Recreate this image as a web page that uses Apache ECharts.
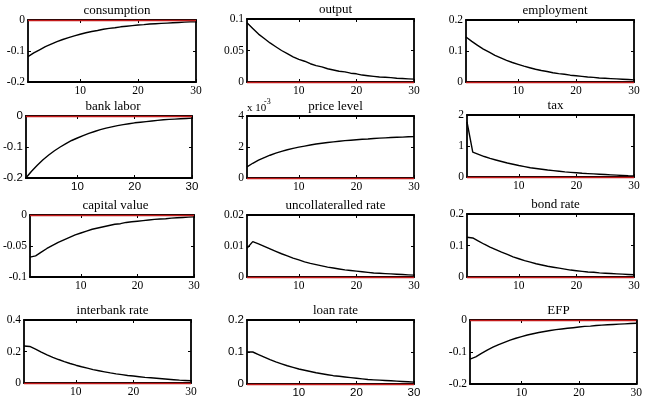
<!DOCTYPE html>
<html>
<head>
<meta charset="utf-8">
<script src="https://cdn.jsdelivr.net/npm/echarts@6/dist/echarts.min.js"></script>
<style>
  html, body { margin: 0; padding: 0; background: #fff; }
  #irf { width: 645px; height: 416px; }
</style>
</head>
<body>
<div id="irf"></div>
<script>
// horizon
const steps = [1,2,3,4,5,6,7,8,9,10,11,12,13,14,15,16,17,18,19,20,21,22,23,24,25,26,27,28,29,30]
const xTicks = [10, 20, 30]

const titles = ['consumption', 'output', 'employment', 'bank labor', 'price level', 'tax',
  'capital value', 'uncollateralled rate', 'bond rate', 'interbank rate', 'loan rate', 'EFP']

// responses
const consumption = [-0.118,-0.106,-0.096,-0.086,-0.078,-0.070,-0.063,-0.057,-0.051,-0.046,-0.041,-0.037,-0.034,-0.030,-0.027,-0.025,-0.022,-0.020,-0.018,-0.016,-0.015,-0.013,-0.012,-0.011,-0.010,-0.009,-0.008,-0.007,-0.006,-0.006]
const output = [0.094,0.085,0.076,0.069,0.062,0.056,0.050,0.045,0.040,0.036,0.033,0.029,0.026,0.024,0.021,0.019,0.017,0.016,0.014,0.013,0.011,0.010,0.009,0.008,0.0075,0.007,0.006,0.0055,0.005,0.0045]
const employment = [0.145,0.131,0.118,0.106,0.096,0.086,0.078,0.070,0.063,0.057,0.051,0.046,0.041,0.037,0.034,0.030,0.027,0.025,0.022,0.020,0.018,0.016,0.015,0.013,0.012,0.011,0.010,0.009,0.008,0.007]
const bankLabor = [-0.200,-0.178,-0.159,-0.141,-0.126,-0.112,-0.100,-0.089,-0.079,-0.071,-0.063,-0.056,-0.050,-0.044,-0.039,-0.035,-0.031,-0.028,-0.025,-0.022,-0.020,-0.018,-0.016,-0.014,-0.012,-0.011,-0.010,-0.009,-0.008,-0.007]
const priceLevel = [0.72,0.95,1.15,1.32,1.47,1.60,1.72,1.82,1.91,1.99,2.06,2.13,2.19,2.24,2.29,2.33,2.37,2.41,2.44,2.47,2.50,2.52,2.55,2.57,2.59,2.61,2.63,2.64,2.66,2.67] // x 10^-3
const tax = [1.78,0.80,0.73,0.66,0.60,0.55,0.50,0.45,0.41,0.37,0.335,0.30,0.275,0.25,0.225,0.205,0.185,0.165,0.15,0.135,0.12,0.11,0.10,0.09,0.08,0.07,0.06,0.05,0.04,0.035]
const capitalValue = [-0.068,-0.066,-0.060,-0.054,-0.049,-0.044,-0.040,-0.036,-0.032,-0.029,-0.026,-0.023,-0.021,-0.019,-0.017,-0.015,-0.014,-0.012,-0.011,-0.010,-0.009,-0.008,-0.007,-0.0065,-0.006,-0.005,-0.0045,-0.004,-0.0035,-0.003]
const uncollRate = [0.0093,0.0114,0.0107,0.0099,0.0091,0.0083,0.0075,0.0068,0.0061,0.0055,0.0049,0.0044,0.0040,0.0036,0.0032,0.0029,0.0026,0.0023,0.0021,0.0019,0.0017,0.0015,0.0013,0.0012,0.0011,0.0010,0.0009,0.0008,0.0007,0.0006]
const bondRate = [0.126,0.124,0.114,0.104,0.095,0.087,0.079,0.072,0.064,0.058,0.052,0.047,0.042,0.038,0.034,0.031,0.028,0.025,0.022,0.020,0.018,0.016,0.015,0.013,0.012,0.011,0.010,0.009,0.008,0.007]
const interbankRate = [0.235,0.232,0.215,0.196,0.178,0.163,0.149,0.136,0.124,0.113,0.103,0.094,0.085,0.078,0.071,0.064,0.058,0.053,0.048,0.044,0.040,0.036,0.033,0.030,0.027,0.024,0.021,0.018,0.016,0.014]
const loanRate = [0.100,0.100,0.092,0.084,0.076,0.069,0.063,0.057,0.052,0.047,0.043,0.039,0.035,0.032,0.029,0.026,0.024,0.022,0.020,0.018,0.016,0.014,0.013,0.012,0.011,0.010,0.009,0.008,0.007,0.006]
const efp = [-0.122,-0.115,-0.104,-0.094,-0.085,-0.077,-0.070,-0.063,-0.057,-0.052,-0.047,-0.043,-0.039,-0.036,-0.033,-0.030,-0.028,-0.026,-0.024,-0.022,-0.020,-0.019,-0.017,-0.016,-0.015,-0.014,-0.013,-0.012,-0.011,-0.010]

// y scales: [min, max, interval]
const yMin = [-0.2, 0, 0, -0.2, 0, 0, -0.1, 0, 0, 0, 0, -0.2]
const yMax = [0, 0.1, 0.2, 0, 4, 2, 0, 0.02, 0.2, 0.4, 0.2, 0]
const yStep = [0.1, 0.05, 0.1, 0.1, 2, 1, 0.05, 0.01, 0.1, 0.2, 0.1, 0.1]

const allSeries = [consumption, output, employment, bankLabor, priceLevel, tax,
  capitalValue, uncollRate, bondRate, interbankRate, loanRate, efp]

// plot boxes [left, top, right, bottom]
const boxes = [
  [28, 20, 196, 82], [247, 19, 414, 82], [466, 20, 634, 82],
  [24, 116, 192, 178], [247, 116, 414, 178], [467, 115, 634, 177],
  [27, 215, 194, 277], [247, 215, 414, 277], [467, 214, 634, 277],
  [24, 320, 191, 383], [247, 320, 414, 384], [470, 320, 637, 384]
]
// two panels use a sans tick font
const sansPanels = [3, 10]

const chart = echarts.init(document.getElementById('irf'))

const grid = [], xAxis = [], yAxis = [], series = [], title = []
const lineCol = '#000'

boxes.forEach((b, i) => {
  const font = sansPanels.includes(i) ? 'Liberation Sans' : 'Liberation Serif'
  const fs = sansPanels.includes(i) ? 11.5 : 11.5
  grid.push({ left: b[0], top: b[1], width: b[2] - b[0], height: b[3] - b[1] })
  title.push({
    text: titles[i], left: (b[0] + b[2]) / 2, top: b[1] - 21, textAlign: 'center',
    textStyle: { fontFamily: 'Liberation Serif', fontSize: 13, fontWeight: 'normal', color: '#000' }
  })
  const axLine = { show: true, onZero: false, lineStyle: { color: lineCol, width: 1.8 } }
  // bottom + top x axes
  ;['bottom', 'top'].forEach((pos) => {
    xAxis.push({
      gridIndex: i, type: 'value', position: pos, min: 1, max: 30,
      axisLine: axLine,
      axisTick: { show: true, inside: true, length: 3, customValues: xTicks, lineStyle: { color: lineCol } },
      axisLabel: {
        show: pos === 'bottom', customValues: xTicks, margin: 3,
        fontFamily: font, fontSize: fs, color: '#000'
      },
      splitLine: { show: false }
    })
  })
  // left + right y axes
  ;['left', 'right'].forEach((pos) => {
    yAxis.push({
      gridIndex: i, type: 'value', position: pos,
      min: yMin[i], max: yMax[i], interval: yStep[i],
      axisLine: axLine,
      axisTick: { show: true, inside: true, length: 3, lineStyle: { color: lineCol } },
      axisLabel: {
        show: pos === 'left', margin: 3, fontFamily: font, fontSize: fs, color: '#000',
        formatter: (v) => String(+v.toFixed(4))
      },
      splitLine: { show: false }
    })
  })
  series.push({
    type: 'line', xAxisIndex: i * 2, yAxisIndex: i * 2,
    data: steps.map((t, k) => [t, allSeries[i][k]]),
    showSymbol: false, symbol: 'none',
    lineStyle: { color: '#000', width: 1.4 },
    markLine: {
      silent: true, symbol: 'none', label: { show: false },
      lineStyle: { color: '#c41a1a', type: 'solid', width: 1.4 },
      data: [{ yAxis: 0 }]
    },
    z: 3
  })
})

let option = {
  backgroundColor: '#fff',
  animation: false,
  title: title,
  grid: grid,
  xAxis: xAxis,
  yAxis: yAxis,
  series: series,
  graphic: [
    { type: 'text', left: 247, top: 103, style: { text: 'x 10', font: '11px "Liberation Serif"', fill: '#000' } },
    { type: 'text', left: 264, top: 98, style: { text: '-3', font: '8px "Liberation Serif"', fill: '#000' } }
  ]
}
chart.setOption(option, true)
</script>
</body>
</html>
